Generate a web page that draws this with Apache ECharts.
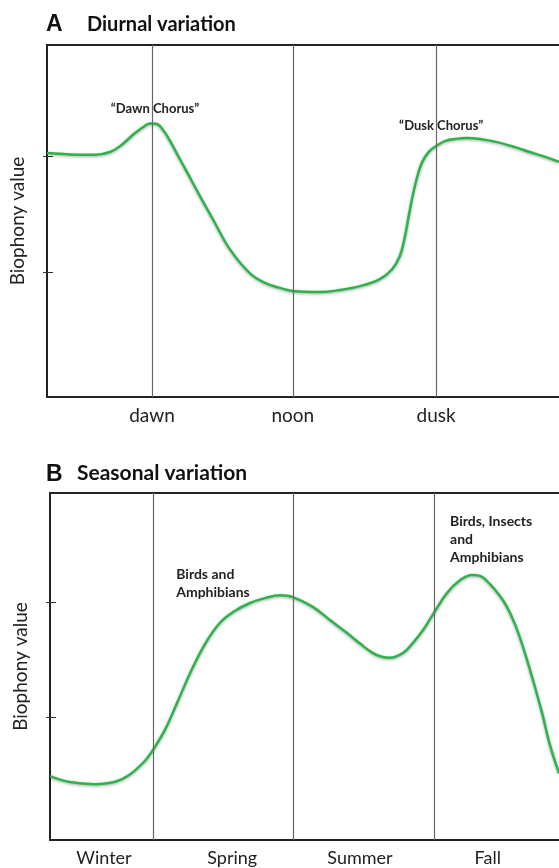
<!DOCTYPE html>
<html>
<head>
<meta charset="utf-8">
<script src="https://cdn.jsdelivr.net/npm/echarts@6/dist/echarts.min.js"></script>
<style>html,body{margin:0;padding:0;background:#fff}#c{width:559px;height:868px}</style>
</head>
<body>
<div id="c"></div>
<script>
// Panel A: diurnal variation (x: 0-100 across the day, y: 0-100 relative biophony)
const diurnalX = [0,3.5,6.4,9.4,12.3,14.3,17.2,19.1,20.1,21.3,22.7,24.0,25.5,27.3,29.9,32.4,35.7,39.6,42.6,45.5,48.0,53.3,57.2,61.1,65.0,67.4,68.9,69.8,70.6,71.4,72.3,73.3,74.6,76.0,77.7,79.7,82.0,84.6,87.9,91.4,94.3,97.3,100];
const diurnalY = [69.3,69.0,68.8,68.8,69.6,71.3,75.0,77.0,77.7,77.6,75.8,72.8,68.8,64.0,57.0,50.5,42.0,35.2,32.4,31.0,30.1,29.8,30.4,31.5,33.5,36.3,40.0,44.8,51.0,57.0,62.5,66.8,69.7,71.3,72.7,73.3,73.6,73.3,72.4,71.0,69.6,68.2,66.8];
const diurnalLabels = ['dawn','noon','dusk'];
const diurnalMarks = [20.5,48.0,76.0];

// Panel B: seasonal variation
const seasonalX = [0,3.9,8.8,12.8,15.7,18.7,20.2,22.6,25.0,27.5,30.5,33.4,36.3,39.3,42.2,45.2,47.7,51.7,55.0,58.3,60.9,63.3,65.0,66.8,68.5,70.1,73.3,75.4,78.0,80.6,82.9,84.5,86.4,88.4,89.8,91.4,93.0,94.9,96.7,98.2,100];
const seasonalY = [18.4,16.7,16.1,16.8,18.9,22.9,25.9,31.8,39.6,48.0,56.6,62.6,66.0,68.3,69.7,70.5,70.0,67.1,63.4,59.7,56.6,54.0,52.9,52.5,53.2,54.8,60.5,65.4,71.2,74.9,76.4,76.1,73.8,70.3,67.1,62.0,55.3,46.0,36.5,27.5,19.3];
const seasonalLabels = ['Winter','Spring','Summer','Fall'];
const seasonalLabelPos = [10.6,35.8,60.9,86.0];
const seasonalMarks = [20.2,47.7,75.4];

const yTicks = [35.5,68.5];

const annotationsA = [
  {text:'\u201cDawn Chorus\u201d', x:21.1, y:81.8, align:'center'},
  {text:'\u201cDusk Chorus\u201d', x:77.0, y:77.0, align:'center'}
];
const annotationsB = [
  {text:'Birds and\nAmphibians', x:24.8, y:73.8, align:'left'},
  {text:'Birds, Insects\nand\nAmphibians', x:78.6, y:86.7, align:'left'}
];

const FONT = 'Lato';
const green = '#2db34c';

function zip(xs, ys){ return xs.map((x,i)=>[x, ys[i]]); }

function xAxes(gridIndex, labels, pos, fontSize){
  return [{
    type:'value', gridIndex, min:0, max:100,
    axisLine:{show:true, onZero:false, lineStyle:{color:'#222', width:2}},
    axisTick:{show:false}, splitLine:{show:false},
    axisLabel:{
      customValues: pos,
      formatter: v => { const i = pos.findIndex(p => Math.abs(p - v) < 1e-6); return i >= 0 ? labels[i] : ''; },
      color:'#222', fontFamily:FONT, fontSize, margin:9
    }
  },{
    type:'value', gridIndex, position:'top', min:0, max:100,
    axisLine:{show:true, onZero:false, lineStyle:{color:'#222', width:2}},
    axisTick:{show:false}, splitLine:{show:false}, axisLabel:{show:false}
  }];
}
function yAxes(gridIndex){
  return [{
    type:'value', gridIndex, min:0, max:100,
    name:'Biophony value', nameLocation:'middle', nameGap:20,
    nameTextStyle:{color:'#222', fontFamily:FONT, fontSize:19},
    axisLine:{show:true, onZero:false, lineStyle:{color:'#222', width:2}},
    axisTick:{show:true, customValues:yTicks, length:4, lineStyle:{color:'#333', width:1}},
    axisLabel:{show:false}, splitLine:{show:false}
  },{
    type:'value', gridIndex, min:0, max:100, position:'left',
    axisLine:{show:false},
    axisTick:{show:true, inside:true, customValues:yTicks, length:6, lineStyle:{color:'#333', width:1}},
    axisLabel:{show:false}, splitLine:{show:false}
  }];
}
function annPoints(list, fontSize){
  return list.map(a => ({
    coord:[a.x, a.y], symbolSize:0,
    label:{show:true, formatter:a.text, align:a.align, verticalAlign:'middle',
      color:'#222', fontFamily:FONT, fontWeight:'bold', fontSize, lineHeight:18, position:'inside', offset:[0,0]}
  }));
}
function curve(xi, yi, data, marks, ann, annSize){
  return {
    type:'line', xAxisIndex:xi, yAxisIndex:yi, data, smooth:0.4, showSymbol:false, symbol:'none',
    lineStyle:{color:green, width:2.5, shadowColor:'rgba(0,0,0,0.35)', shadowBlur:3, shadowOffsetY:1},
    markLine:{silent:true, symbol:'none', animation:false,
      lineStyle:{color:'#666', width:1.2, type:'solid'}, label:{show:false},
      data: marks.map(m => ({xAxis:m}))},
    markPoint:{silent:true, symbol:'circle', animation:false, data: annPoints(ann, annSize)},
    z:3
  };
}

const chart = echarts.init(document.getElementById('c'), null, {renderer:'canvas'});
chart.setOption({
  animation:false,
  title:[
    {text:'A', left:41, top:8, textStyle:{fontFamily:'Liberation Sans', fontWeight:'bold', fontSize:23, color:'#111'}},
    {text:'Diurnal variation', left:82, top:10, textStyle:{fontFamily:FONT, fontWeight:'bold', fontSize:20, color:'#111'}},
    {text:'B', left:41, top:458, textStyle:{fontFamily:'Liberation Sans', fontWeight:'bold', fontSize:23, color:'#111'}},
    {text:'Seasonal variation', left:72, top:458, textStyle:{fontFamily:FONT, fontWeight:'bold', fontSize:21, color:'#111'}}
  ],
  grid:[
    {left:47, top:45, width:512, height:352},
    {left:50, top:493, width:509, height:347}
  ],
  xAxis:[...xAxes(0, diurnalLabels, diurnalMarks, 19), ...xAxes(1, seasonalLabels, seasonalLabelPos, 18)],
  yAxis:[...yAxes(0), ...yAxes(1)],
  series:[
    curve(0, 0, zip(diurnalX, diurnalY), diurnalMarks, annotationsA, 13),
    curve(2, 2, zip(seasonalX, seasonalY), seasonalMarks, annotationsB, 14)
  ]
});
</script>
</body>
</html>
